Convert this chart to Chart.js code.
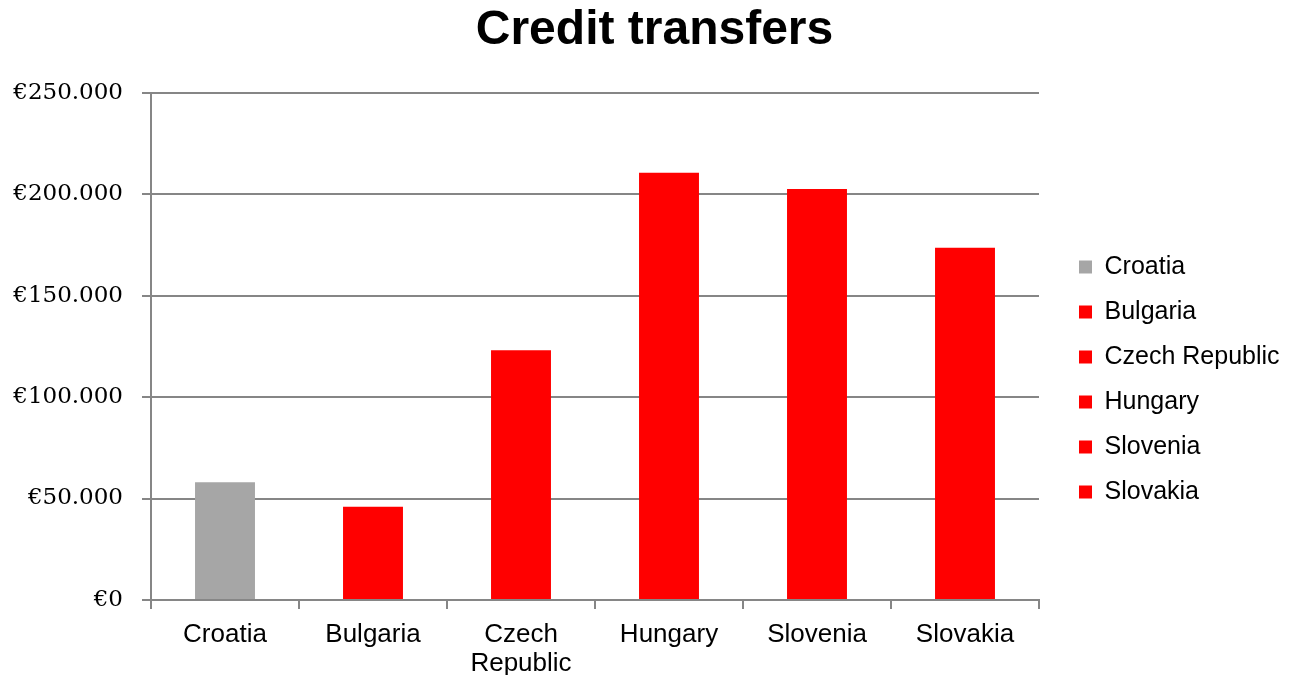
<!DOCTYPE html>
<html>
<head>
<meta charset="utf-8">
<script src="https://cdn.jsdelivr.net/npm/chart.js@4/dist/chart.umd.min.js"></script>
<style>
  html, body { margin: 0; padding: 0; background: #fff; }
</style>
</head>
<body>
<canvas id="chart" width="1292" height="675"></canvas>
<script>
// data
const countries = ["Croatia", "Bulgaria", "Czech Republic", "Hungary", "Slovenia", "Slovakia"];
const axisLabels = ["Croatia", "Bulgaria", ["Czech", "Republic"], "Hungary", "Slovenia", "Slovakia"];
const transfers = [58000, 46000, 123000, 210500, 202500, 173500];
const barColors = ["#a6a6a6", "#ff0000", "#ff0000", "#ff0000", "#ff0000", "#ff0000"];
const yTicks = [0, 50000, 100000, 150000, 200000, 250000];

const euro = (v) => "\u20ac" + v.toLocaleString("de-DE");

// stretch the legend box so the plot stops where the reference does,
// then nudge legend + title to match the original placement
const layoutTweaks = {
  id: "layoutTweaks",
  beforeInit(chart) {
    const fit = chart.legend.fit;
    chart.legend.fit = function () {
      fit.call(this);
      this.width = 253;
    };
  },
  afterLayout(chart) {
    chart.legend.left += 20;
    chart.legend.top += 42;
    chart.legend.bottom += 42;
    chart.titleBlock.left += 17;
  },
};

const ctx = document.getElementById("chart").getContext("2d");
new Chart(ctx, {
  type: "bar",
  data: {
    labels: axisLabels,
    datasets: [
      {
        label: "Credit transfers",
        data: transfers,
        backgroundColor: barColors,
        barPercentage: 0.405,
        categoryPercentage: 1,
      },
    ],
  },
  options: {
    responsive: false,
    animation: false,
    layout: { padding: 0 },
    plugins: {
      title: {
        display: true,
        text: "Credit transfers",
        color: "#000",
        font: { family: "Liberation Sans", size: 48, weight: "bold" },
        padding: { top: 2, bottom: 33 },
      },
      legend: {
        position: "right",
        labels: {
          color: "#000",
          font: { family: "Liberation Sans", size: 25 },
          boxWidth: 13,
          boxHeight: 13,
          padding: 20,
          generateLabels: () =>
            countries.map((c, i) => ({
              text: c,
              fillStyle: barColors[i],
              strokeStyle: barColors[i],
              lineWidth: 0,
              hidden: false,
              index: i,
              fontColor: "#000",
            })),
        },
      },
      tooltip: { enabled: false },
    },
    scales: {
      x: {
        grid: {
          drawOnChartArea: false,
          drawTicks: true,
          tickLength: 9,
          color: "#868686",
          lineWidth: 2,
        },
        border: { color: "#868686", width: 2 },
        ticks: {
          color: "#000",
          font: { family: "Liberation Sans", size: 26, lineHeight: 1.12 },
          padding: 11,
          maxRotation: 0,
        },
        afterFit: (scale) => { scale.height = 75; },
      },
      y: {
        min: 0,
        max: 250000,
        afterBuildTicks: (scale) => {
          scale.ticks = yTicks.map((v) => ({ value: v }));
        },
        grid: {
          color: "#868686",
          lineWidth: 2,
          tickLength: 9,
        },
        border: { color: "#868686", width: 2 },
        ticks: {
          color: "#000",
          font: { family: "DejaVu Serif", size: 23 },
          padding: 19,
          callback: (v) => euro(v),
        },
        afterFit: (scale) => { scale.width = 151; },
      },
    },
  },
  plugins: [layoutTweaks],
});
</script>
</body>
</html>
